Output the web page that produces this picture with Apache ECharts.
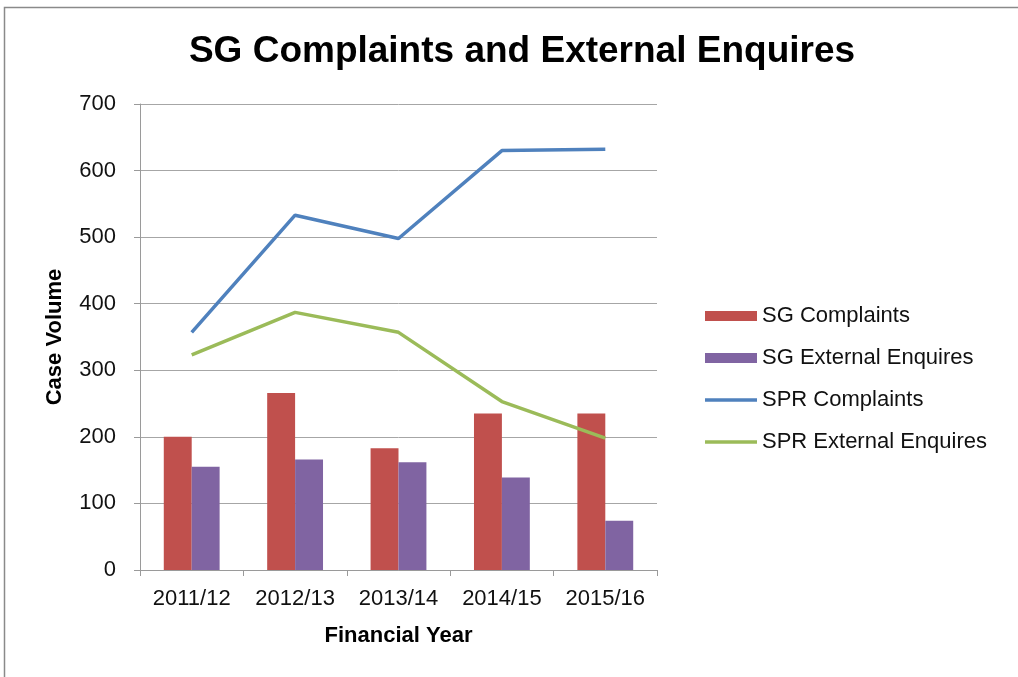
<!DOCTYPE html>
<html>
<head>
<meta charset="utf-8">
<script src="https://cdn.jsdelivr.net/npm/echarts@6/dist/echarts.min.js"></script>
<style>
  html, body { margin: 0; padding: 0; background: #fff; }
  #main { width: 1018px; height: 677px; }
</style>
</head>
<body>
<div id="main"></div>
<script>
var years = ["2011/12", "2012/13", "2013/14", "2014/15", "2015/16"];
var sgComplaints = [200, 266, 183, 235, 235];
var sgExternal = [155, 166, 162, 139, 74];
var sprComplaints = [357, 533, 498, 630, 632];
var sprExternal = [323, 387, 357, 253, 198];

var font = "Liberation Sans, Arial, sans-serif";
// thin bar used as the legend icon of the line series (no marker dot)
var lineIcon = "path://M0,0H52V3.5H0Z";

var myChart = echarts.init(document.getElementById("main"));
myChart.setOption({
  backgroundColor: "#fff",
  textStyle: { fontFamily: font },
  title: {
    text: "SG Complaints and External Enquires",
    left: 517,
    textAlign: "center",
    top: 28,
    textStyle: { fontSize: 37, fontWeight: "bold", color: "#000", fontFamily: font }
  },
  graphic: [
    {
      type: "rect",
      shape: { x: 4.5, y: 7.5, width: 1030, height: 700 },
      style: { fill: "none", stroke: "#8a8a8a", lineWidth: 1.5 },
      silent: true
    }
  ],
  legend: {
    orient: "vertical",
    left: 700,
    top: 299,
    itemWidth: 52,
    itemHeight: 10,
    itemGap: 18,
    symbolKeepAspect: true,
    textStyle: { fontSize: 22, color: "#111", lineHeight: 24, fontFamily: font },
    data: [
      { name: "SG Complaints", icon: "rect" },
      { name: "SG External Enquires", icon: "rect" },
      { name: "SPR Complaints", icon: lineIcon },
      { name: "SPR External Enquires", icon: lineIcon }
    ]
  },
  grid: { left: 140, right: 361, top: 104, bottom: 107 },
  xAxis: {
    type: "category",
    data: years,
    name: "Financial Year",
    nameLocation: "middle",
    nameGap: 55,
    nameTextStyle: { fontSize: 22, fontWeight: "bold", color: "#000" },
    axisLine: { lineStyle: { color: "#9a9a9a", width: 1 } },
    axisTick: { show: true, length: 6, lineStyle: { color: "#9a9a9a" } },
    axisLabel: { fontSize: 22, color: "#111", margin: 18 }
  },
  yAxis: {
    type: "value",
    min: 0,
    max: 700,
    interval: 100,
    name: "Case Volume",
    nameLocation: "middle",
    nameGap: 74,
    nameTextStyle: { fontSize: 22, fontWeight: "bold", color: "#000" },
    axisLine: { show: true, lineStyle: { color: "#9a9a9a" } },
    axisTick: { show: true, length: 6, lineStyle: { color: "#9a9a9a" } },
    axisLabel: { fontSize: 22, color: "#111", margin: 24 },
    splitLine: { lineStyle: { color: "#a6a6a6", width: 1 } }
  },
  series: [
    {
      name: "SG Complaints",
      type: "bar",
      data: sgComplaints,
      barGap: "0%",
      barCategoryGap: "46%",
      itemStyle: { color: "#C0504D" }
    },
    {
      name: "SG External Enquires",
      type: "bar",
      data: sgExternal,
      itemStyle: { color: "#8064A2" }
    },
    {
      name: "SPR Complaints",
      type: "line",
      data: sprComplaints,
      symbol: "none",
      lineStyle: { color: "#4F81BD", width: 3.5 },
      itemStyle: { color: "#4F81BD" }
    },
    {
      name: "SPR External Enquires",
      type: "line",
      data: sprExternal,
      symbol: "none",
      lineStyle: { color: "#9BBB59", width: 3.5 },
      itemStyle: { color: "#9BBB59" }
    }
  ],
  animation: false
});
</script>
</body>
</html>
